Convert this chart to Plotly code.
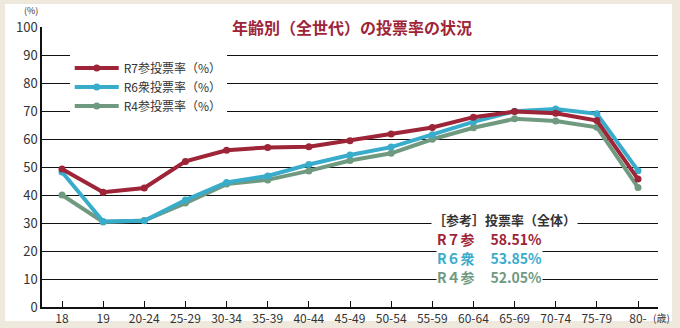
import plotly.graph_objects as go

categories = ["18", "19", "20-24", "25-29", "30-34", "35-39", "40-44", "45-49",
              "50-54", "55-59", "60-64", "65-69", "70-74", "75-79", "80-"]
r7_values = [49.3, 41.0, 42.5, 52.0, 56.0, 57.0, 57.2, 59.4, 61.8, 64.1, 67.8, 69.8, 69.2, 66.6, 45.7]
r6_values = [48.2, 30.5, 30.8, 38.2, 44.5, 46.8, 50.9, 54.3, 57.1, 61.5, 66.1, 69.9, 70.7, 69.0, 48.7]
r4_values = [40.0, 30.4, 30.9, 37.1, 43.9, 45.4, 48.6, 52.3, 54.9, 59.9, 64.0, 67.2, 66.4, 64.2, 42.7]
series_names = ["R7参投票率（%）", "R6衆投票率（%）", "R4参投票率（%）"]
summary_labels = ["R７参", "R６衆", "R４参"]
summary_values = ["58.51%", "53.85%", "52.05%"]
y_ticks = [0, 10, 20, 30, 40, 50, 60, 70, 80, 90, 100]

RED = "#9e2438"
TEAL = "#3aaccb"
GREEN = "#6f9a80"
colors = [RED, TEAL, GREEN]
FONT = "Noto Sans CJK JP"

fig = go.Figure()
# draw R4 first so R7 sits on top
for name, vals, col in reversed(list(zip(series_names, [r7_values, r6_values, r4_values], colors))):
    fig.add_trace(go.Scatter(
        x=list(range(len(categories))), y=vals, name=name, mode="lines+markers",
        line=dict(color=col, width=4), marker=dict(color=col, size=7),
    ))

fig.update_layout(
    width=680, height=328,
    margin=dict(l=42, r=22, t=27, b=21, autoexpand=False),
    paper_bgcolor="#efe8dc",
    plot_bgcolor="white",
    font=dict(family=FONT, size=12, color="#222222"),
    showlegend=True,
    legend=dict(x=0.045, y=0.905, xanchor="left", yanchor="top",
                bgcolor="white", font=dict(size=12, color="#333333"),
                traceorder="reversed", itemwidth=44, tracegroupgap=0,
                borderwidth=0),
    xaxis=dict(
        tickmode="array", tickvals=list(range(len(categories))), ticktext=categories,
        range=[-0.486, 14.486], showgrid=False, zeroline=False, automargin=False,
        showline=True, linecolor="#111111", linewidth=1.5,
        ticks="inside", ticklen=6, tickcolor="#111111",
        tickfont=dict(size=12, color="#333333"),
    ),
    yaxis=dict(
        tickmode="array", tickvals=y_ticks, range=[0, 100], automargin=False,
        showgrid=True, gridcolor="#111111", gridwidth=1,
        zeroline=False, showline=True, linecolor="#111111", linewidth=1.5,
        ticks="", tickfont=dict(size=13, color="#333333"),
    ),
    shapes=[dict(type="rect", xref="paper", yref="paper",
                 x0=-37/616, x1=(672-42)/616, y0=-(321-307)/280, y1=(307-4)/280,
                 fillcolor="white", line=dict(width=0), layer="below")],
)

# Title over the 100 gridline
fig.add_annotation(xref="paper", yref="paper", x=(352-42)/616, y=1.0,
                   text="<b>年齢別（全世代）の投票率の状況</b>", showarrow=False,
                   font=dict(size=16, color=RED, family=FONT),
                   bgcolor="white", borderpad=3, xanchor="center", yanchor="middle")
# (%) unit label
fig.add_annotation(xref="paper", yref="paper", x=(31-42)/616, y=(307-11)/280,
                   text="(%)", showarrow=False, font=dict(size=9, color="#333333"),
                   xanchor="center", yanchor="middle")
# (歳) unit label
fig.add_annotation(xref="paper", yref="paper", x=(651-42)/616, y=-(317-307)/280,
                   text="(歳)", showarrow=False, font=dict(size=10, color="#333333"),
                   xanchor="left", yanchor="middle")
# reference box
fig.add_annotation(xref="paper", yref="paper", x=(504-42)/616, y=(307-219)/280,
                   text="<b>［参考］投票率（全体）</b>", showarrow=False,
                   font=dict(size=13, color="#333333", family=FONT),
                   bgcolor="white", borderpad=1, xanchor="center", yanchor="middle")
row_y = [239, 258, 277]
for lab, val, col, yy in zip(summary_labels, summary_values, colors, row_y):
    fig.add_annotation(xref="paper", yref="paper", x=(436-42)/616, y=(307-yy)/280,
                       text=f"<b>{lab}&nbsp;&nbsp;&nbsp;&nbsp;&nbsp;{val}</b>", showarrow=False,
                       font=dict(size=14, color=col, family=FONT),
                       bgcolor="white", borderpad=0, xanchor="left", yanchor="middle")

fig.write_html("out.html")
